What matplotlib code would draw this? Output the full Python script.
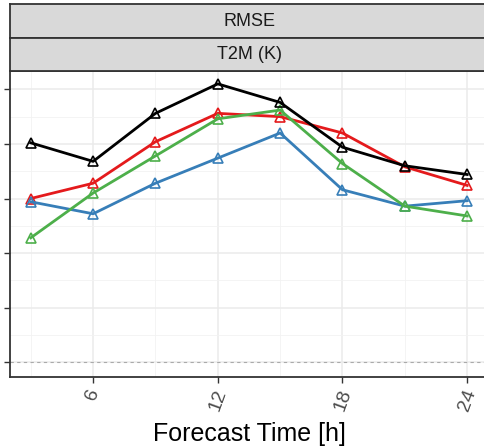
import matplotlib.pyplot as plt
from matplotlib.ticker import MultipleLocator

plt.rcParams['font.family'] = ['Liberation Sans', 'DejaVu Sans']

hours = [3, 6, 9, 12, 15, 18, 21, 24]
black = [2.01, 1.84, 2.28, 2.55, 2.38, 1.97, 1.80, 1.72]
red = [1.50, 1.64, 2.02, 2.28, 2.25, 2.10, 1.79, 1.62]
green = [1.14, 1.55, 1.89, 2.23, 2.31, 1.82, 1.43, 1.34]
blue = [1.47, 1.36, 1.64, 1.87, 2.10, 1.58, 1.43, 1.48]

series = [('#E41A1C', red), ('#377EB8', blue), ('#4DAF4A', green), ('black', black)]

W, H = 485, 448
fig = plt.figure(figsize=(W / 100, H / 100), dpi=100)

# panel: pixel box left=10, right=489, top=71, bottom=377
ax = fig.add_axes([10 / W, (H - 377) / H, 479 / W, 306 / H])
ax.set_xlim(2.0, 25.05)
ax.set_ylim(-0.135, 2.668)

ax.xaxis.set_major_locator(MultipleLocator(6))
ax.xaxis.set_minor_locator(MultipleLocator(3))
ax.yaxis.set_major_locator(MultipleLocator(0.5))
ax.yaxis.set_minor_locator(MultipleLocator(0.25))
ax.grid(which='major', color='#EBEBEB', lw=1.1)
ax.grid(which='minor', color='#F2F2F2', lw=0.6)
ax.set_axisbelow(True)

ax.axhline(0, color='#AAAAAA', lw=0.8, ls=(0, (3, 3)))

for col, vals in series:
    ax.plot(hours, vals, color=col, lw=2.0, marker='^', markersize=7,
            markerfacecolor='none', markeredgewidth=1.2, markeredgecolor=col)

for s in ax.spines.values():
    s.set_color('#333333')
    s.set_linewidth(1.3)

ax.tick_params(which='minor', length=0)
ax.tick_params(axis='both', which='major', color='#333333', length=4, width=1.0)
ax.tick_params(axis='y', labelsize=12, labelcolor='#4D4D4D', pad=3)
ax.tick_params(axis='x', labelsize=14, labelcolor='#4D4D4D', pad=3)
ax.set_yticklabels(['%.1f' % v for v in ax.get_yticks()])
for lab in ax.get_xticklabels():
    lab.set_rotation(70)
    lab.set_ha('center')
    lab.set_va('top')

ax.set_xlabel('Forecast Time [h]', fontsize=18, color='black', labelpad=6.5)

# facet strips
strips = [('RMSE', 4, 38), ('T2M (K)', 38, 71)]
for text, top, bot in strips:
    sax = fig.add_axes([10 / W, (H - bot) / H, 479 / W, (bot - top) / H])
    sax.set_facecolor('#D9D9D9')
    sax.set_xticks([])
    sax.set_yticks([])
    for s in sax.spines.values():
        s.set_color('#333333')
        s.set_linewidth(1.3)
    sax.text(0.5, 0.5, text, transform=sax.transAxes,
             ha='center', va='center', fontsize=13, color='#1A1A1A')

fig.savefig('out.png', dpi=100)
